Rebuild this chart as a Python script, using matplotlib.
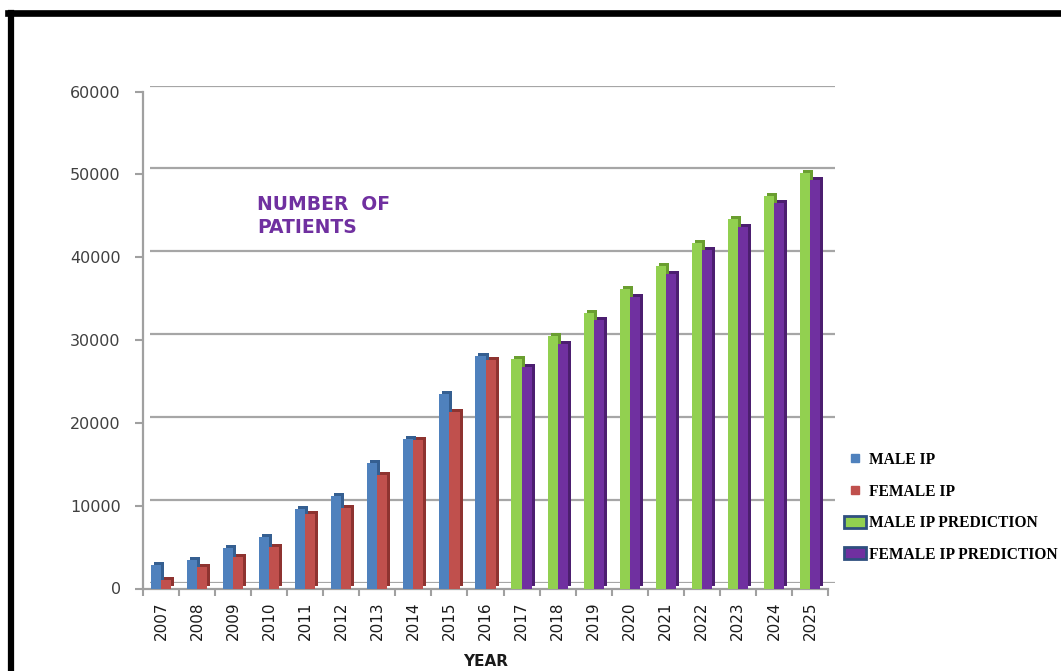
import matplotlib
matplotlib.use("Agg")
import matplotlib.pyplot as plt
from matplotlib.transforms import ScaledTranslation
from matplotlib.lines import Line2D
from matplotlib.patches import Patch
import numpy as np

years = [str(y) for y in range(2007, 2026)]
male_ip = [2800, 3400, 4900, 6250, 9550, 11200, 15100, 18000, 23450, 28100]
female_ip = [1000, 2600, 3750, 4950, 8950, 9750, 13700, 17900, 21250, 27550]
male_pred = [27700, 30500, 33300, 36100, 38950, 41750, 44550, 47350, 50200]
female_pred = [26750, 29550, 32400, 35200, 38000, 40850, 43700, 46550, 49350]
yticks = [0, 10000, 20000, 30000, 40000, 50000, 60000]

W, H = 1061, 671
fig = plt.figure(figsize=(W / 100, H / 100), dpi=100)
fig.patch.set_facecolor("white")

# back wall (gridlines), shifted up/right for the 3d look
axb = fig.add_axes([150 / W, (H - 582.5) / H, 685 / W, 497 / H])
# front plane: axis, ticks, bars
ax = fig.add_axes([143 / W, (H - 588.5) / H, 685 / W, 497 / H])

for a in (axb, ax):
    a.set_xlim(-0.5, len(years) - 0.5)
    a.set_ylim(0, 60000)
    a.set_facecolor("none")

axb.set_yticks(yticks)
axb.yaxis.grid(True, color="#a6a6a6", lw=1.6)
axb.set_xticks([])
axb.tick_params(left=False, labelleft=False)
for s in axb.spines.values():
    s.set_visible(False)

x = np.arange(len(years))
w = 0.28
n_hist = len(male_ip)
xh = x[:n_hist]
xp = x[n_hist:]

depth = ScaledTranslation(3 / 100, 3 / 100, fig.dpi_scale_trans)
series = [
    (xh - w / 2, male_ip, "#4f81bd", "#355f91", "MALE IP"),
    (xh + w / 2, female_ip, "#c0504d", "#8e3330", "FEMALE IP"),
    (xp - w / 2, male_pred, "#92d050", "#6a9e30", "MALE IP PREDICTION"),
    (xp + w / 2, female_pred, "#7030a0", "#4c1e70", "FEMALE IP PREDICTION"),
]
for xs, vals, col, dark, lab in series:
    ax.bar(xs, vals, w, color=dark, transform=ax.transData + depth, zorder=2)
    ax.bar(xs, vals, w, color=col, zorder=3)

ax.set_yticks(yticks)
ax.set_yticklabels([str(v) for v in yticks], fontsize=11.5, color="#404040")
ax.tick_params(axis="y", length=6, width=1.5, color="#a0a0a0", pad=10)
ax.set_xticks(x)
ax.set_xticklabels(years, rotation=90, fontsize=11, color="#1a1a1a")
ax.set_xticks(np.arange(-0.5, len(years)), minor=True)
ax.tick_params(axis="x", which="major", length=0, pad=9)
ax.tick_params(axis="x", which="minor", length=5, width=1.5, color="#a0a0a0")
for s in ["top", "right"]:
    ax.spines[s].set_visible(False)
for s in ["left", "bottom"]:
    ax.spines[s].set_color("#a0a0a0")
    ax.spines[s].set_linewidth(1.6)
ax.set_xlabel("YEAR", fontsize=11, fontweight="bold", color="#1a1a1a", labelpad=10)

fig.text(257 / W, 1 - 195 / H, "NUMBER  OF\nPATIENTS", fontsize=13.5, fontweight="bold",
         color="#7030a0", va="top", ha="left", linespacing=1.25)

handles = [
    Line2D([], [], marker="s", markersize=6, color="#4f81bd", linestyle="none"),
    Line2D([], [], marker="s", markersize=6, color="#c0504d", linestyle="none"),
    Patch(facecolor="#92d050", edgecolor="#2f4f7f", linewidth=2),
    Patch(facecolor="#7030a0", edgecolor="#2f4f7f", linewidth=2),
]
labels = [s[4] for s in series]
fig.legend(handles, labels, loc="upper left", bbox_to_anchor=(844 / W, 1 - 452 / H),
           frameon=False, borderpad=0, borderaxespad=0, handlelength=1.4,
           handleheight=0.85, handletextpad=0.2, labelspacing=1.0,
           prop={"family": "Liberation Serif", "weight": "bold", "size": 11.2})

# black frame round the picture (top and left only)
top_y = 1 - 13.3 / H
fig.add_artist(Line2D([8 / W, 1], [top_y, top_y], color="black", lw=4.8))
fig.add_artist(Line2D([11 / W, 11 / W], [0, top_y], color="black", lw=4.5))

fig.savefig("out.png", dpi=100)
